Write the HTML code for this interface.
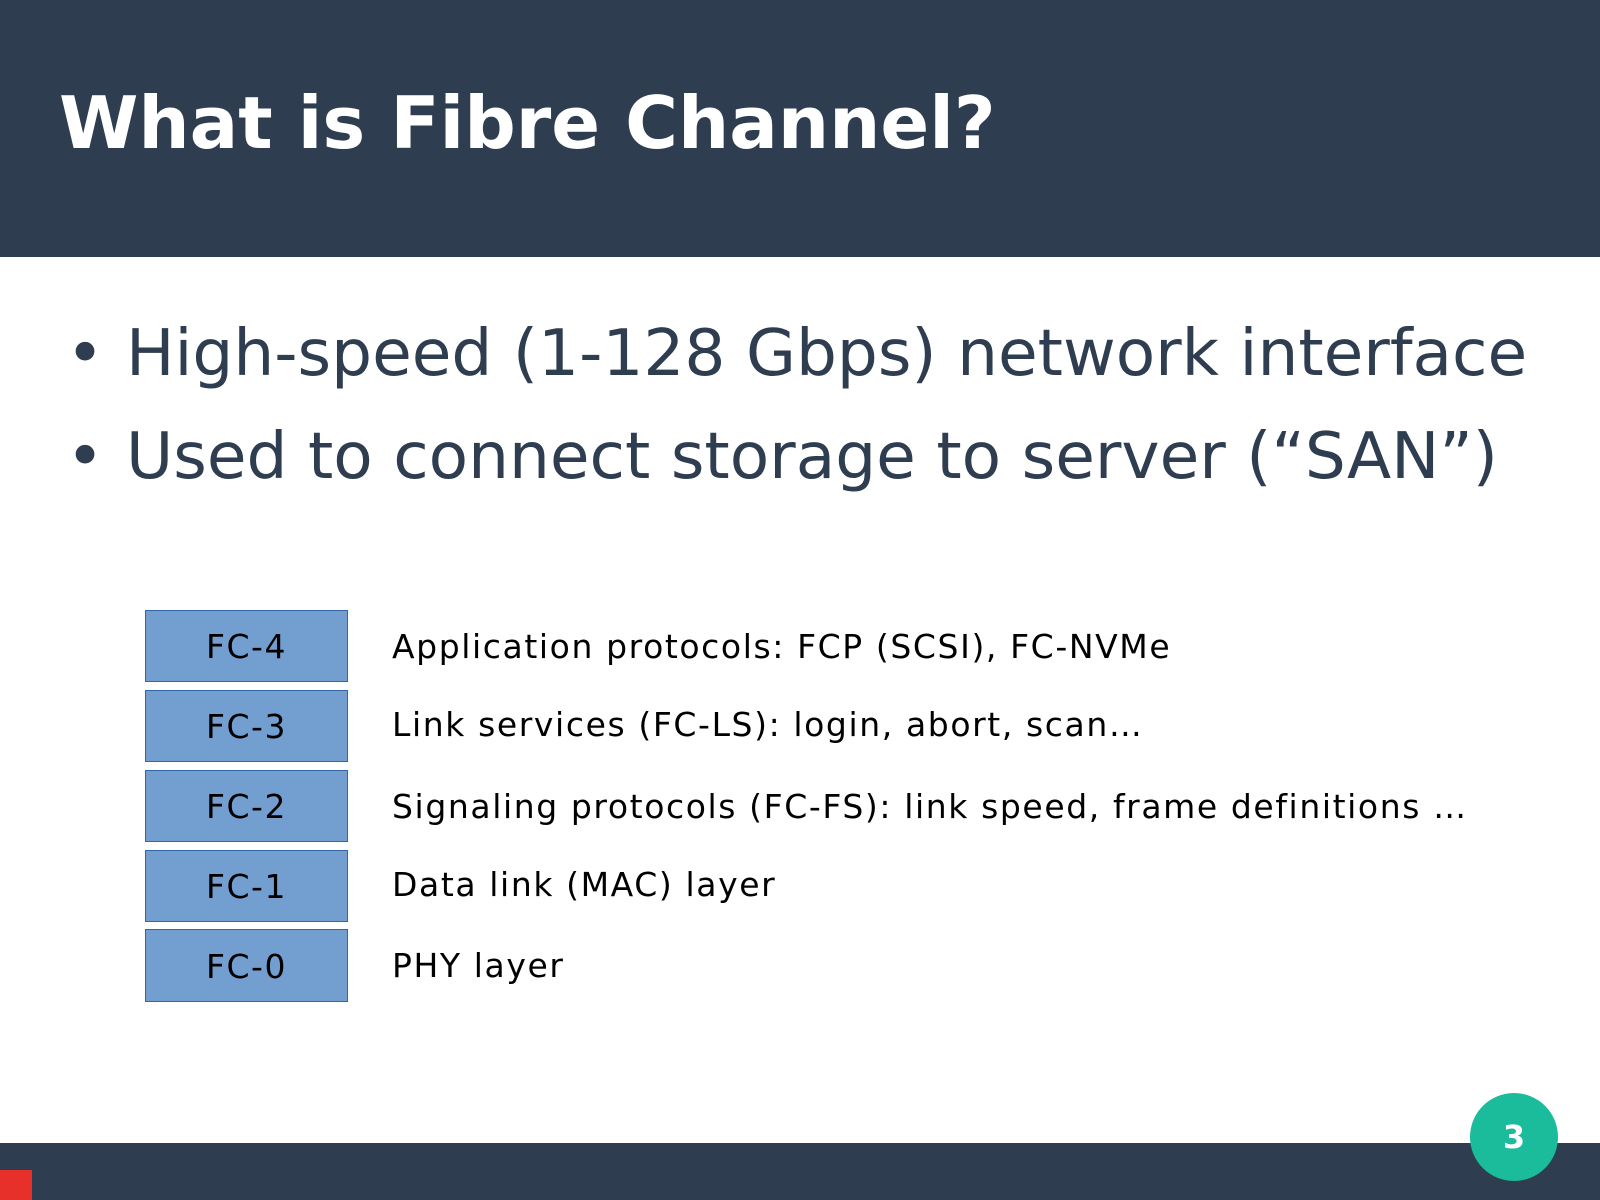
<!DOCTYPE html>
<html><head><meta charset="utf-8"><style>
html,body{margin:0;padding:0}
body{width:1600px;height:1200px;position:relative;background:#fff;overflow:hidden;font-family:"DejaVu Sans","Liberation Sans",sans-serif}
.hdr{position:absolute;left:0;top:0;width:1600px;height:257px;background:#2e3d50}
.title{position:absolute;left:59px;top:81px;font-size:72px;font-weight:bold;color:#fff;white-space:nowrap}
.b{position:absolute;left:66px;font-size:64.5px;color:#2e3d50;white-space:nowrap}
.b span{display:inline-block;width:60px}
.box{position:absolute;left:145px;width:203px;background:#729fcf;border:1px solid #3465a4;box-sizing:border-box;font-size:33px;letter-spacing:1.5px;color:#000;text-align:center}
.d{position:absolute;left:392px;font-size:33px;letter-spacing:1.6px;color:#000;white-space:nowrap}
.ftr{position:absolute;left:0;top:1143px;width:1600px;height:57px;background:#2e3d50}
.red{position:absolute;left:0;top:1170px;width:32px;height:30px;background:#e8302a}
.circ{position:absolute;left:1470px;top:1093px;width:88px;height:88px;border-radius:50%;background:#1abc9c;color:#fff;font-weight:bold;font-size:32px;text-align:center;line-height:88px}
</style></head><body>
<div class="hdr"></div>
<div class="title">What is Fibre Channel?</div>
<div class="b" style="top:316px"><span>•</span>High-speed (1-128 Gbps) network interface</div>
<div class="b" style="top:419px"><span>•</span>Used to connect storage to server (“SAN”)</div>
<div class="box" style="top:610px;height:72px;line-height:72px">FC-4</div>
<div class="box" style="top:690px;height:72px;line-height:72px">FC-3</div>
<div class="box" style="top:770px;height:72px;line-height:72px">FC-2</div>
<div class="box" style="top:850px;height:72px;line-height:72px">FC-1</div>
<div class="box" style="top:929px;height:73px;line-height:73px">FC-0</div>
<div class="d" style="top:627px">Application protocols: FCP (SCSI), FC-NVMe</div>
<div class="d" style="top:705px">Link services (FC-LS): login, abort, scan…</div>
<div class="d" style="top:787px">Signaling protocols (FC-FS): link speed, frame definitions …</div>
<div class="d" style="top:865px">Data link (MAC) layer</div>
<div class="d" style="top:946px">PHY layer</div>
<div class="ftr"></div>
<div class="red"></div>
<div class="circ">3</div>
</body></html>
